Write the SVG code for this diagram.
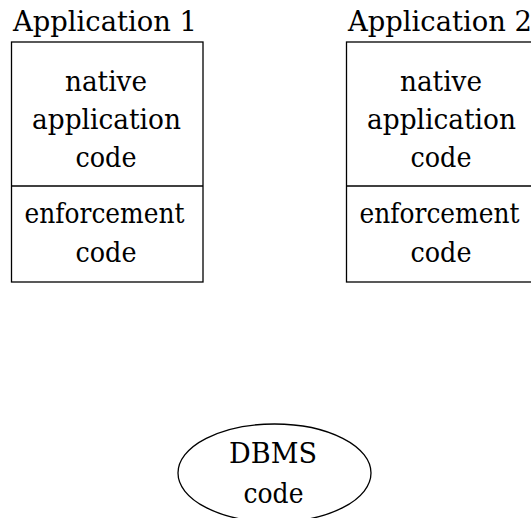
<svg xmlns="http://www.w3.org/2000/svg" width="531" height="518" viewBox="0 0 531 518">
  <style>
    .shape { fill: none; stroke: #000; stroke-width: 1.3; }
    .lbl { font-family: "DejaVu Serif", serif; font-size: 28px; fill: #000; text-anchor: middle; }
  </style>
  <rect width="531" height="518" fill="#fff"/>

  <!-- Application 1 -->
  <g id="app1">
    <text class="lbl" x="105" y="31" textLength="184" lengthAdjust="spacingAndGlyphs">Application 1</text>
    <rect class="shape" x="11.5" y="42" width="191.5" height="240"/>
    <line class="shape" x1="11.5" y1="186" x2="203" y2="186"/>
    <text class="lbl" x="106" y="91" textLength="82" lengthAdjust="spacingAndGlyphs">native</text>
    <text class="lbl" x="106.5" y="129" textLength="149" lengthAdjust="spacingAndGlyphs">application</text>
    <text class="lbl" x="106" y="167" textLength="61" lengthAdjust="spacingAndGlyphs">code</text>
    <text class="lbl" x="104.5" y="223" textLength="160" lengthAdjust="spacingAndGlyphs">enforcement</text>
    <text class="lbl" x="106" y="262" textLength="61" lengthAdjust="spacingAndGlyphs">code</text>
  </g>

  <!-- Application 2 -->
  <g id="app2">
    <text class="lbl" x="440" y="31" textLength="184" lengthAdjust="spacingAndGlyphs">Application 2</text>
    <rect class="shape" x="346.5" y="42" width="191.5" height="240"/>
    <line class="shape" x1="346.5" y1="186" x2="538" y2="186"/>
    <text class="lbl" x="441" y="91" textLength="82" lengthAdjust="spacingAndGlyphs">native</text>
    <text class="lbl" x="441.5" y="129" textLength="149" lengthAdjust="spacingAndGlyphs">application</text>
    <text class="lbl" x="441" y="167" textLength="61" lengthAdjust="spacingAndGlyphs">code</text>
    <text class="lbl" x="439.5" y="223" textLength="160" lengthAdjust="spacingAndGlyphs">enforcement</text>
    <text class="lbl" x="441" y="262" textLength="61" lengthAdjust="spacingAndGlyphs">code</text>
  </g>

  <!-- DBMS -->
  <g id="dbms">
    <ellipse class="shape" cx="274.5" cy="473" rx="96.5" ry="49"/>
    <text class="lbl" x="273" y="463" textLength="88" lengthAdjust="spacingAndGlyphs">DBMS</text>
    <text class="lbl" x="273.5" y="503" textLength="60" lengthAdjust="spacingAndGlyphs">code</text>
  </g>

  <g id="connectors"/>
</svg>
